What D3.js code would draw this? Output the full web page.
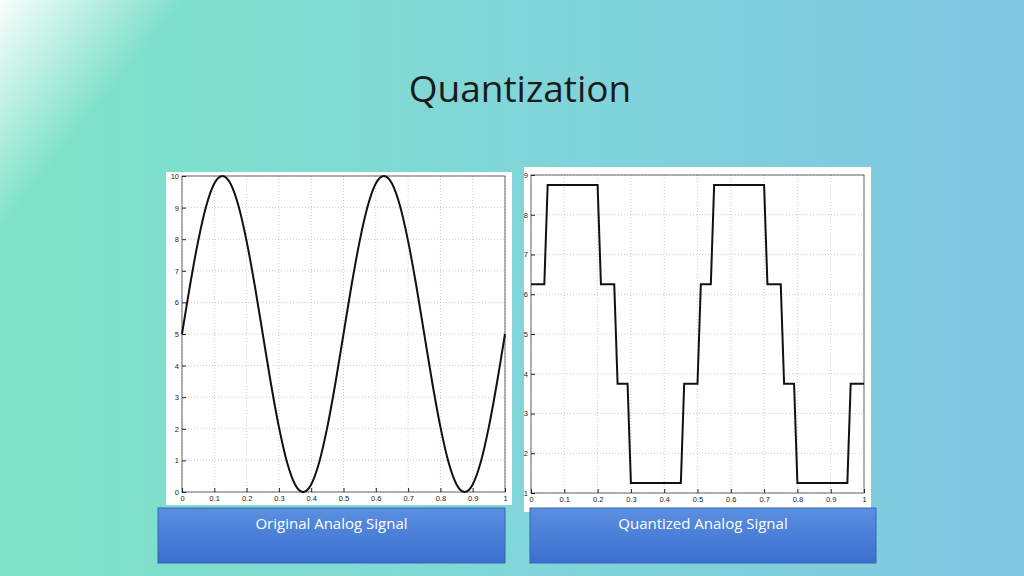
<!DOCTYPE html>
<html><head><meta charset="utf-8">
<script src="https://cdn.jsdelivr.net/npm/d3@7"></script>
<style>body{margin:0;overflow:hidden}</style>
</head><body>
<script>
var W = 1024, H = 576;

// readings from the picture
var sineX = d3.range(41).map(function(i){ return i / 40; });
var sineY = [5,6.55,7.94,9.05,9.76,10,9.76,9.05,7.94,6.55,5,3.45,2.06,0.95,0.24,0,0.24,0.95,2.06,3.45,
             5,6.55,7.94,9.05,9.76,10,9.76,9.05,7.94,6.55,5,3.45,2.06,0.95,0.24,0,0.24,0.95,2.06,3.45,5];
var quantX = [0,0.04,0.05,0.2,0.21,0.25,0.26,0.29,0.3,0.45,0.46,0.5,0.51,0.54,0.55,0.7,0.71,0.75,0.76,0.79,0.8,0.95,0.96,1];
var quantY = [6.25,6.25,8.75,8.75,6.25,6.25,3.75,3.75,1.25,1.25,3.75,3.75,6.25,6.25,8.75,8.75,6.25,6.25,3.75,3.75,1.25,1.25,3.75,3.75];
var xTicks = [0,0.1,0.2,0.3,0.4,0.5,0.6,0.7,0.8,0.9,1];
var captions = ["Original Analog Signal", "Quantized Analog Signal"];

var svg = d3.select('body').append('svg').attr('width', W).attr('height', H);
var defs = svg.append('defs');
var bg = defs.append('linearGradient').attr('id','bg').attr('x1',0).attr('x2',1).attr('y1',0).attr('y2',0);
bg.append('stop').attr('offset',0).attr('stop-color','#7ee3c6');
bg.append('stop').attr('offset',0.5).attr('stop-color','#80d6d8');
bg.append('stop').attr('offset',1).attr('stop-color','#7ec6e2');
var glow = defs.append('linearGradient').attr('id','glow').attr('x1',0).attr('x2',1).attr('y1',0).attr('y2',0.45);
glow.append('stop').attr('offset',0).attr('stop-color','#fff').attr('stop-opacity',0.95);
glow.append('stop').attr('offset',0.15).attr('stop-color','#fff').attr('stop-opacity',0);
var cap = defs.append('linearGradient').attr('id','cap').attr('x1',0).attr('x2',0).attr('y1',0).attr('y2',1);
cap.append('stop').attr('offset',0).attr('stop-color','#5b8fe0');
cap.append('stop').attr('offset',1).attr('stop-color','#3a6fd0');

svg.append('rect').attr('width',W).attr('height',H).attr('fill','url(#bg)');
svg.append('rect').attr('width',W).attr('height',H).attr('fill','url(#glow)');

svg.append('text').attr('x',520).attr('y',102).attr('text-anchor','middle')
    .attr('font-family','Open Sans, Liberation Sans, sans-serif').attr('font-size',37)
    .attr('fill','#1a1a1a').text('Quantization');

function drawChart(panel, plot, yDom, yTicks, xs, ys, curve){
    svg.append('rect').attr('x',panel[0]).attr('y',panel[1]).attr('width',panel[2]).attr('height',panel[3]).attr('fill','#fff');
    var x = d3.scaleLinear().domain([0,1]).range([plot[0], plot[0]+plot[2]]);
    var y = d3.scaleLinear().domain(yDom).range([plot[1]+plot[3], plot[1]]);
    var g = svg.append('g');
    g.selectAll('.vx').data(xTicks).enter().append('line')
        .attr('x1',x).attr('x2',x).attr('y1',plot[1]).attr('y2',plot[1]+plot[3])
        .attr('stroke','#bbb').attr('stroke-dasharray','1,2').attr('stroke-width',0.8);
    g.selectAll('.hy').data(yTicks).enter().append('line')
        .attr('y1',y).attr('y2',y).attr('x1',plot[0]).attr('x2',plot[0]+plot[2])
        .attr('stroke','#bbb').attr('stroke-dasharray','1,2').attr('stroke-width',0.8);
    g.append('rect').attr('x',plot[0]).attr('y',plot[1]).attr('width',plot[2]).attr('height',plot[3])
        .attr('fill','none').attr('stroke','#444').attr('stroke-width',0.8);
    var ax = g.append('g').attr('transform','translate(0,'+(plot[1]+plot[3])+')')
        .call(d3.axisBottom(x).tickValues(xTicks).tickSize(-4).tickPadding(4).tickFormat(d3.format('')));
    var ay = g.append('g').attr('transform','translate('+plot[0]+',0)')
        .call(d3.axisLeft(y).tickValues(yTicks).tickSize(-4).tickPadding(3));
    [ax, ay].forEach(function(a){
        a.select('.domain').remove();
        a.attr('color','#222');
        a.selectAll('text').attr('font-size',7.5).attr('font-family','Liberation Sans, sans-serif');
    });
    var pts = xs.map(function(d,i){ return [d, ys[i]]; });
    g.append('path').datum(pts)
        .attr('d', d3.line().x(function(d){return x(d[0]);}).y(function(d){return y(d[1]);}).curve(curve))
        .attr('fill','none').attr('stroke','#111').attr('stroke-width',2);
}

drawChart([166,172,346,333],[182,176,323,316],[0,10],d3.range(0,11),sineX,sineY,d3.curveCardinal);
drawChart([524,167,347,345],[531,175,333,318],[1,9],d3.range(1,10),quantX,quantY,d3.curveLinear);

var boxes = [[158,508,347,55],[530,508,346,55]];
boxes.forEach(function(b,i){
    svg.append('rect').attr('x',b[0]).attr('y',b[1]).attr('width',b[2]).attr('height',b[3])
        .attr('fill','url(#cap)').attr('stroke','#3a64b0').attr('stroke-width',1);
    svg.append('text').attr('x',b[0]+b[2]/2).attr('y',b[1]+21).attr('text-anchor','middle')
        .attr('font-family','Open Sans, Liberation Sans, sans-serif').attr('font-size',15)
        .attr('fill','#fff').text(captions[i]);
});
</script>
</body></html>
